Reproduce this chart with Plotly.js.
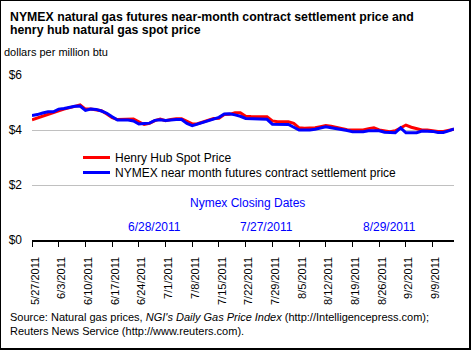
<!DOCTYPE html>
<html>
<head>
<meta charset="utf-8">
<script src="https://cdn.plot.ly/plotly-3.0.1.min.js"></script>
<style>
  html, body { margin: 0; padding: 0; background: #fff; }
  #wrap { position: relative; width: 471px; height: 350px; }
  #chart { width: 471px; height: 350px; }
  #frame { position: absolute; left: 0; top: 0; width: 471px; height: 350px; box-sizing: border-box;
           border-left: 1px solid #000; border-top: 1px solid #000; border-right: 2px solid #000; border-bottom: 2px solid #000;
           pointer-events: none; }
</style>
</head>
<body>
<div id="wrap"><div id="chart"></div><div id="frame"></div></div>
<script>
// ---- data ----
const dates = [
  "5/27/2011","5/30/2011","5/31/2011","6/1/2011","6/2/2011","6/3/2011",
  "6/6/2011","6/7/2011","6/8/2011","6/9/2011","6/10/2011",
  "6/13/2011","6/14/2011","6/15/2011","6/16/2011","6/17/2011",
  "6/20/2011","6/21/2011","6/22/2011","6/23/2011","6/24/2011",
  "6/27/2011","6/28/2011","6/29/2011","6/30/2011","7/1/2011",
  "7/4/2011","7/5/2011","7/6/2011","7/7/2011","7/8/2011",
  "7/11/2011","7/12/2011","7/13/2011","7/14/2011","7/15/2011",
  "7/18/2011","7/19/2011","7/20/2011","7/21/2011","7/22/2011",
  "7/25/2011","7/26/2011","7/27/2011","7/28/2011","7/29/2011",
  "8/1/2011","8/2/2011","8/3/2011","8/4/2011","8/5/2011",
  "8/8/2011","8/9/2011","8/10/2011","8/11/2011","8/12/2011",
  "8/15/2011","8/16/2011","8/17/2011","8/18/2011","8/19/2011",
  "8/22/2011","8/23/2011","8/24/2011","8/25/2011","8/26/2011",
  "8/29/2011","8/30/2011","8/31/2011","9/1/2011","9/2/2011",
  "9/5/2011","9/6/2011","9/7/2011","9/8/2011","9/9/2011",
  "9/12/2011","9/13/2011","9/14/2011","9/15/2011"
];
const henryHub = [
  4.37,4.44,4.50,4.58,4.65,4.70,
  4.76,4.82,4.86,4.91,4.76,
  4.76,4.74,4.70,4.58,4.45,
  4.38,4.38,4.38,4.40,4.30,
  4.20,4.24,4.34,4.40,4.34,
  4.38,4.41,4.41,4.33,4.22,
  4.23,4.29,4.35,4.42,4.43,
  4.56,4.57,4.63,4.63,4.50,
  4.49,4.49,4.49,4.48,4.33,
  4.30,4.30,4.30,4.24,4.08,
  4.06,4.06,4.08,4.12,4.16,
  4.14,4.10,4.06,4.01,4.00,
  4.00,4.00,4.05,4.08,4.00,
  3.96,3.94,3.97,4.08,4.18,
  4.10,4.04,4.00,4.00,3.97,
  3.95,3.95,4.00,4.03
];
const nymex = [
  4.53,4.56,4.62,4.66,4.66,4.76,
  4.78,4.82,4.86,4.87,4.71,
  4.76,4.75,4.69,4.61,4.48,
  4.36,4.36,4.36,4.33,4.22,
  4.24,4.25,4.35,4.37,4.35,
  4.37,4.38,4.38,4.24,4.16,
  4.22,4.28,4.33,4.41,4.46,
  4.58,4.59,4.55,4.50,4.42,
  4.41,4.41,4.41,4.39,4.21,
  4.20,4.20,4.20,4.10,4.00,
  4.00,4.00,4.03,4.07,4.12,
  4.08,4.05,4.03,3.98,3.94,
  3.94,3.94,3.97,3.97,3.97,
  3.92,3.90,3.90,4.08,3.90,
  3.90,3.90,3.96,3.96,3.95,
  3.91,3.91,3.97,4.04
];
const tickDates = [
  "5/27/2011","6/3/2011","6/10/2011","6/17/2011","6/24/2011","7/1/2011",
  "7/8/2011","7/15/2011","7/22/2011","7/29/2011","8/5/2011","8/12/2011",
  "8/19/2011","8/26/2011","9/2/2011","9/9/2011"
];
const yTickVals = [0, 2, 4, 6];
const yTickText = ["$0", "$2", "$4", "$6"];
const nymexClosingDates = ["6/28/2011", "7/27/2011", "8/29/2011"];
const seriesNames = ["Henry Hub Spot Price", "NYMEX near month futures contract settlement price"];
const seriesColors = ["#FF0000", "#0000FF"];

// ---- layout helpers (pixel -> paper) ----
const W = 471, H = 350, ML = 32, MR = 17, MT = 75, MB = 110;
const PW = W - ML - MR, PH = H - MT - MB;
const px = x => (x - ML) / PW;
const py = y => (H - MB - y) / PH;
const FONT = "Arial, 'Liberation Sans', sans-serif";

const traces = [
  { x: dates, y: henryHub, type: "scatter", mode: "lines", name: seriesNames[0],
    line: { color: seriesColors[0], width: 3 }, hoverinfo: "skip" },
  { x: dates, y: nymex, type: "scatter", mode: "lines", name: seriesNames[1],
    line: { color: seriesColors[1], width: 3 }, hoverinfo: "skip" }
];

const annotations = [
  { text: "<b>NYMEX natural gas futures near-month contract settlement price and</b>", x: px(8), y: py(16.5),
    xanchor: "left", yanchor: "middle", font: { size: 12.3, color: "#000" } },
  { text: "<b>henry hub natural gas spot price</b>", x: px(8), y: py(30.5),
    xanchor: "left", yanchor: "middle", font: { size: 12.3, color: "#000" } },
  { text: "dollars per million btu", x: px(2), y: py(51.5),
    xanchor: "left", yanchor: "middle", font: { size: 11, color: "#000" } },
  { text: seriesNames[0], x: px(113), y: py(157.5),
    xanchor: "left", yanchor: "middle", font: { size: 12, color: "#000" } },
  { text: seriesNames[1], x: px(113), y: py(172.5),
    xanchor: "left", yanchor: "middle", font: { size: 12, color: "#000" } },
  { text: "Nymex Closing Dates", x: px(247), y: py(202.5),
    xanchor: "center", yanchor: "middle", font: { size: 12, color: "#0000FF" } },
  { text: "Source: Natural gas prices, <i>NGI's Daily Gas Price Index</i> (http://Intelligencepress.com);",
    x: px(8), y: py(317), xanchor: "left", yanchor: "middle", font: { size: 11, color: "#000" } },
  { text: "Reuters News Service (http://www.reuters.com).",
    x: px(8), y: py(330.5), xanchor: "left", yanchor: "middle", font: { size: 11, color: "#000" } }
];
nymexClosingDates.forEach(d => annotations.push({
  text: d, xref: "x", x: d, y: py(227), xshift: 5,
  xanchor: "center", yanchor: "middle", font: { size: 12, color: "#0000FF" }
}));
annotations.forEach(a => { if (!a.xref) a.xref = "paper"; a.yref = "paper"; a.showarrow = false; });

const shapes = [
  { type: "line", xref: "paper", yref: "paper", x0: px(83), x1: px(110), y0: py(157.5), y1: py(157.5),
    line: { color: seriesColors[0], width: 3 } },
  { type: "line", xref: "paper", yref: "paper", x0: px(83), x1: px(110), y0: py(172.5), y1: py(172.5),
    line: { color: seriesColors[1], width: 3 } }
];

const layout = {
  width: W, height: H,
  margin: { l: ML, r: MR, t: MT, b: MB, pad: 0 },
  paper_bgcolor: "#fff", plot_bgcolor: "#fff",
  font: { family: FONT, color: "#000" },
  showlegend: false,
  xaxis: {
    type: "category", range: [0, dates.length - 1],
    tickvals: tickDates, ticktext: tickDates, tickangle: -90,
    tickfont: { size: 11, color: "#000" },
    ticks: "outside", ticklen: 5, tickwidth: 1, tickcolor: "#000",
    ticklabelstandoff: 6, ticklabelshift: 3,
    showline: true, linecolor: "#000", linewidth: 1.5,
    showgrid: false, zeroline: false, fixedrange: true
  },
  yaxis: {
    range: [0, 6], tickvals: yTickVals, ticktext: yTickText,
    tickfont: { size: 12, color: "#000" },
    showgrid: true, gridcolor: "#C0C0C0", gridwidth: 1,
    showline: false, zeroline: false, ticks: "", ticklabelstandoff: 9, fixedrange: true
  },
  annotations: annotations,
  shapes: shapes
};

Plotly.newPlot("chart", traces, layout, { staticPlot: true, displayModeBar: false });
</script>
</body>
</html>
